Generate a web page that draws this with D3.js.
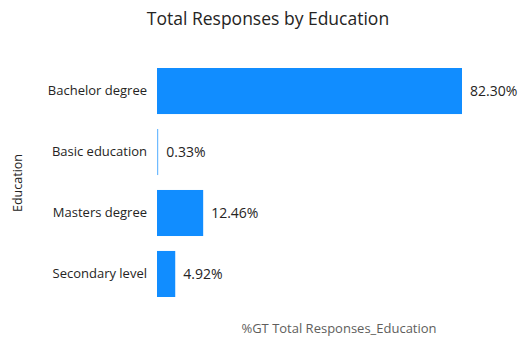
<!DOCTYPE html>
<html>
<head>
<meta charset="utf-8">
<script src="https://cdn.jsdelivr.net/npm/d3@7"></script>
<style>
  body { margin: 0; background: #fff; }
  text { font-family: "Open Sans", "Noto Sans", sans-serif; }
</style>
</head>
<body>
<svg id="chart" width="523" height="340"></svg>
<script>
    var categories = ["Bachelor degree", "Basic education", "Masters degree", "Secondary level"];
    var values = [82.30, 0.33, 12.46, 4.92];

    var svg = d3.select("#chart");
    var left = 157;

    var x = d3.scaleLinear()
        .domain([0, 82.30])
        .range([left, 462]);

    var y = d3.scaleBand()
        .domain(categories)
        .range([68, 297])
        .paddingInner(0.245)
        .paddingOuter(0);

    // title
    svg.append("text")
        .attr("x", 268)
        .attr("y", 25)
        .attr("text-anchor", "middle")
        .style("font-size", "17.5px")
        .style("fill", "#252423")
        .text("Total Responses by Education");

    // bars
    svg.selectAll("rect.bar")
        .data(values)
        .enter().append("rect")
        .attr("class", "bar")
        .attr("x", left)
        .attr("y", function(d, i) { return y(categories[i]); })
        .attr("width", function(d) { return Math.max(1.2, x(d) - left); })
        .attr("height", y.bandwidth())
        .style("fill", "#118DFF")
        .style("fill-opacity", function(d) { return d < 1 ? 0.6 : 1; });

    // data labels
    svg.selectAll("text.val")
        .data(values)
        .enter().append("text")
        .attr("class", "val")
        .attr("x", function(d) { return x(d) + 8; })
        .attr("y", function(d, i) { return y(categories[i]) + y.bandwidth() / 2; })
        .attr("dy", "0.35em")
        .style("font-size", "14px")
        .style("fill", "#252423")
        .text(function(d) { return d.toFixed(2) + "%"; });

    // category axis
    var yAxis = d3.axisLeft(y).tickSize(0).tickPadding(10);
    var g = svg.append("g")
        .attr("transform", "translate(" + left + ",0)")
        .call(yAxis);
    g.select(".domain").remove();
    g.selectAll("text")
        .style("font-size", "13px")
        .style("font-family", "\"Open Sans\", sans-serif")
        .style("fill", "#252423");

    // axis titles
    svg.append("text")
        .attr("transform", "translate(22,183) rotate(-90)")
        .attr("text-anchor", "middle")
        .style("font-size", "12.5px")
        .style("fill", "#252423")
        .text("Education");

    svg.append("text")
        .attr("x", 339)
        .attr("y", 333)
        .attr("text-anchor", "middle")
        .style("font-size", "13px")
        .style("fill", "#605E5C")
        .text("%GT Total Responses_Education");
</script>
</body>
</html>
